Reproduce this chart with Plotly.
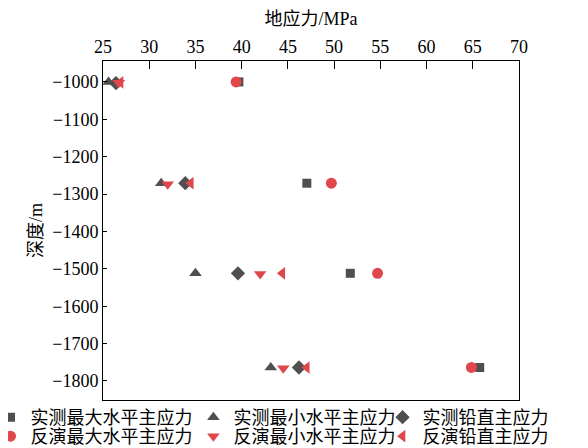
import plotly.graph_objects as go

# measured
meas_max = [39.7, 47.05, 51.75, 65.75]
meas_min = [25.6, 31.3, 35.0, 43.15]
meas_vert = [26.4, 33.9, 39.6, 46.2]
meas_depth_max = [-1000, -1271, -1512, -1764]
meas_depth_min = [-1000, -1271, -1512, -1764]
meas_depth_vert = [-1003, -1271, -1512, -1764]

# inversion
inv_max = [39.4, 49.7, 54.7, 64.85]
inv_min = [26.7, 32.0, 42.0, 44.5]
inv_vert = [26.9, 34.5, 44.4, 47.05]
inv_depth_max = [-1000, -1271, -1512, -1764]
inv_depth_min = [-1002, -1274, -1514, -1766]
inv_depth_vert = [-1001, -1271, -1512, -1764]

names = ["实测最大水平主应力", "实测最小水平主应力", "实测铅直主应力",
         "反演最大水平主应力", "反演最小水平主应力", "反演铅直主应力"]

GRAY = "#4f4f4f"
RED = "#e0474c"
FONT = "Times New Roman, Liberation Serif, Noto Sans CJK SC, serif"

fig = go.Figure()
series = [
    (meas_max, meas_depth_max, names[0], "square", GRAY, 9, "legend"),
    (meas_min, meas_depth_min, names[1], "triangle-up", GRAY, 11, "legend2"),
    (meas_vert, meas_depth_vert, names[2], "diamond", GRAY, 11, "legend3"),
    (inv_max, inv_depth_max, names[3], "circle", RED, 11, "legend4"),
    (inv_min, inv_depth_min, names[4], "triangle-down", RED, 11, "legend5"),
    (inv_vert, inv_depth_vert, names[5], "triangle-left", RED, 11, "legend6"),
]
for xs, ys, nm, sym, col, sz, lg in series:
    fig.add_trace(go.Scatter(x=xs, y=ys, mode="markers", name=nm, legend=lg,
                             marker=dict(symbol=sym, color=col, size=sz, line=dict(width=0))))

leg_common = dict(orientation="v", yanchor="top", xanchor="left",
                  traceorder="normal", bgcolor="rgba(0,0,0,0)",
                  font=dict(size=18, family="Noto Sans CJK SC", color="black"),
                  itemwidth=30, tracegroupgap=0)
col_x = [-0.2704, 0.2173, 0.672]
row_y = [0.0029, -0.0531]

fig.update_layout(
    width=580, height=440,
    margin=dict(l=95, r=69, t=53, b=48, autoexpand=False),
    plot_bgcolor="white", paper_bgcolor="white",
    font=dict(family=FONT, size=18, color="black"),
    legend=dict(x=col_x[0], y=row_y[0], **leg_common),
    legend2=dict(x=col_x[1], y=row_y[0], **leg_common),
    legend3=dict(x=col_x[2], y=row_y[0], **leg_common),
    legend4=dict(x=col_x[0], y=row_y[1], **leg_common),
    legend5=dict(x=col_x[1], y=row_y[1], **leg_common),
    legend6=dict(x=col_x[2], y=row_y[1], **leg_common),
    xaxis=dict(side="top", range=[25, 70], dtick=5, tick0=25,
               showline=True, linecolor="black", linewidth=1, mirror=True,
               ticks="inside", ticklen=8, tickcolor="black", showgrid=False, zeroline=False,
               title=dict(text="地应力/MPa", font=dict(size=18), standoff=6)),
    yaxis=dict(range=[-1851, -944], dtick=100, tick0=-1000,
               showline=True, linecolor="black", linewidth=1, mirror=True,
               ticks="inside", ticklen=4, tickcolor="black", showgrid=False, zeroline=False,
               title=dict(text="深度/m", font=dict(size=18), standoff=4)),
    showlegend=True,
)
fig.write_html("out.html")
